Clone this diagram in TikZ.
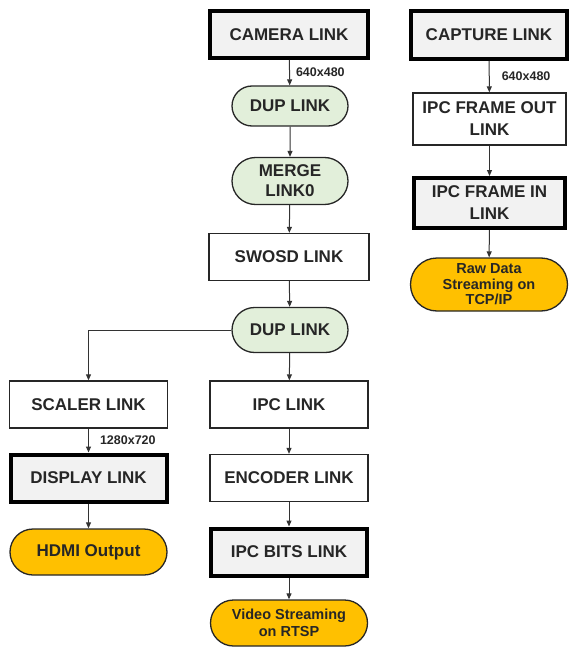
\documentclass[tikz,border=0pt]{standalone}
\usepackage{fontspec}
\setmainfont{Liberation Sans}
\usetikzlibrary{arrows.meta,shapes.misc}
\definecolor{boxgray}{HTML}{F2F2F2}
\definecolor{dupgreen}{HTML}{E2EFDA}
\definecolor{outorange}{HTML}{FFC000}
\definecolor{inkgray}{HTML}{262626}

\begin{document}
\begin{tikzpicture}[x=1pt, y=-1pt, >={Triangle[length=6pt,width=5pt]},
  every node/.style={font=\bfseries\fontsize{17}{20}\selectfont, text=inkgray, align=center, inner sep=0pt},
  heavy/.style={draw=black, line width=4pt, fill=boxgray, minimum width=156, minimum height=47},
  plain/.style={draw=black!85, line width=1.3pt, fill=white, minimum width=158, minimum height=47},
  dup/.style={rounded rectangle, draw=black!85, line width=1.3pt, fill=dupgreen, minimum width=116, minimum height=40},
  sink/.style={rounded rectangle, draw=black!85, line width=1.3pt, fill=outorange, minimum width=157, minimum height=46,
    font=\bfseries\fontsize{14.5}{17}\selectfont},
  flow/.style={->, line width=1pt, draw=black!80},
  res/.style={font=\bfseries\fontsize{12.5}{14}\selectfont}]
  \useasboundingbox (0,0) rectangle (569,650);
  \node[heavy, minimum width=158] (cam) at (289,34.5) {CAMERA LINK};
  \node[dup] (dupa) at (290,106) {DUP LINK};
  \node[dup, minimum height=47] (merge) at (290,181) {MERGE\\LINK0};
  \node[plain, minimum width=160] (swosd) at (289,257) {SWOSD LINK};
  \node[dup, minimum height=45] (dupb) at (290,330) {DUP LINK};
  \node[plain] (ipc) at (289,404.5) {IPC LINK};
  \node[plain] (enc) at (289,478) {ENCODER LINK};
  \node[heavy] (bits) at (289,552) {IPC BITS LINK};
  \node[sink] (video) at (289,623) {Video Streaming\\on RTSP};
  \node[plain] (scaler) at (88.5,404.5) {SCALER LINK};
  \node[heavy] (disp) at (88.5,478) {DISPLAY LINK};
  \node[sink, font=\bfseries\fontsize{17}{20}\selectfont] (hdmi) at (88.5,552) {HDMI Output};
  \node[heavy, minimum height=48] (capt) at (489,35) {CAPTURE LINK};
  \node[plain, minimum width=153, minimum height=52, font=\bfseries\fontsize{17}{22}\selectfont] (fout) at (489.5,119) {IPC FRAME OUT\\LINK};
  \node[heavy, minimum width=151, minimum height=50, font=\bfseries\fontsize{17}{22}\selectfont] (fin) at (489.5,203) {IPC FRAME IN\\LINK};
  \node[sink, minimum height=53, font=\bfseries\fontsize{14.5}{15.5}\selectfont] (raw) at (489,284.5) {Raw Data\\Streaming on\\TCP/IP};
  \draw[flow] (cam) -- (dupa) node[midway, right=6pt, res] {640x480};
  \draw[flow] (capt) -- (fout) node[midway, right=12pt, res] {640x480};
  \draw[flow] (scaler) -- (disp) node[midway, right=11pt, res] {1280x720};
  \foreach \a/\b in {dupa/merge, merge/swosd, swosd/dupb, dupb/ipc, ipc/enc, enc/bits, bits/video,
    disp/hdmi, fout/fin, fin/raw}
    \draw[flow] (\a) -- (\b);
  \draw[flow] (dupb.west) -| (scaler.north);
\end{tikzpicture}
\end{document}
